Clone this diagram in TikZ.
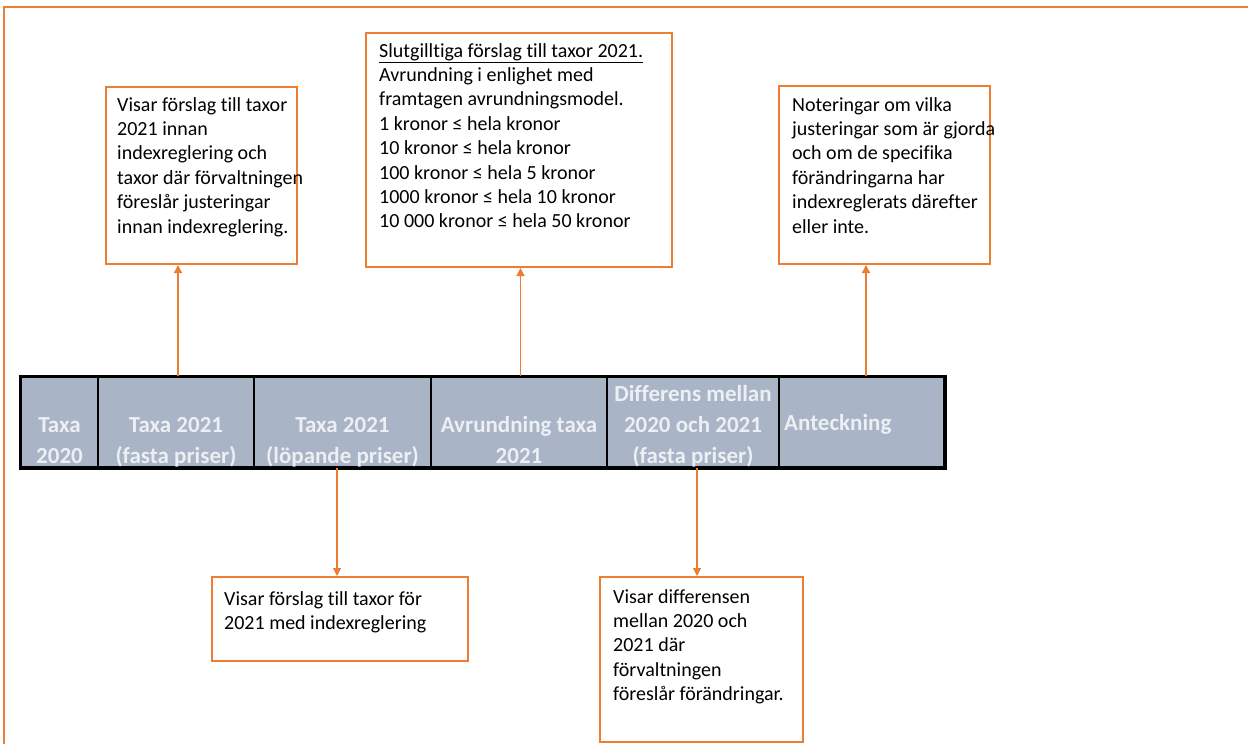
\documentclass[tikz,border=0pt]{standalone}
\usepackage{fontspec}
\usetikzlibrary{arrows.meta}
\newfontfamily\notefont[Ligatures={NoCommon,NoRequired,NoContextual}]{Carlito}
\definecolor{noteorange}{RGB}{237,125,49}
\definecolor{cellfill}{RGB}{169,181,198}
\definecolor{headtext}{RGB}{236,239,243}

\begin{document}
\begin{tikzpicture}
[x=1pt,y=-1pt,
 cellbox/.style={draw=black,line width=2pt,fill=cellfill,minimum height=90pt,inner sep=0pt},
 headtxt/.style={font=\notefont\bfseries\fontsize{23}{31}\selectfont,text=headtext,align=center,anchor=south,inner sep=0pt},
 notebox/.style={draw=noteorange,line width=2pt,fill=white,inner sep=0pt},
 notetxt/.style={font=\notefont\fontsize{20}{24.4}\selectfont,align=left,anchor=north west,inner sep=0pt},
 ar/.style={draw=noteorange,line width=1.2pt,-{Triangle[length=8pt,width=8pt]}}]
\useasboundingbox (0,0) rectangle (1251,744);
\draw [noteorange,line width=2.5pt] (4,744) -- (4,7);
\draw [noteorange,line width=2.5pt] (2.75,7) -- (1248,7);

% header row
\node [cellbox,minimum width=77pt] at (59.5,422) (c1) {};
\node [cellbox,minimum width=156pt] at (176,422) (c2) {};
\node [cellbox,minimum width=177pt] at (342.5,422) (c3) {};
\node [cellbox,minimum width=176pt] at (519,422) (c4) {};
\node [cellbox,minimum width=172pt] at (693,422) (c5) {};
\node [cellbox,minimum width=165pt] at (861.5,422) (c6) {};
\draw [line width=3pt] (c1.north west) rectangle (c6.south east);

\node [headtxt] at ([yshift=-4.6pt]c1.south) (t1) {Taxa\\2020\strut};
\node [headtxt] at ([yshift=-4.6pt]c2.south) (t2) {Taxa 2021\\(fasta priser)\strut};
\node [headtxt] at ([yshift=-4.6pt]c3.south) (t3) {Taxa 2021\\(löpande priser)\strut};
\node [headtxt] at ([yshift=-4.6pt]c4.south) (t4) {Avrundning taxa\\2021\strut};
\node [headtxt] at ([yshift=-4.6pt]c5.south) (t5) {Differens mellan\\2020 och 2021\\(fasta priser)\strut};
\node [headtxt,anchor=base west] at ([xshift=6pt,yshift=-8pt]c6.west) (t6) {Anteckning};

% explanation boxes
\node [notebox,minimum width=191pt,minimum height=177pt] at (201.5,175.5) (boxA) {};
\node [notetxt] at ([xshift=12pt,yshift=-11pt]boxA.north west) {Visar förslag till taxor\\2021 innan\\indexreglering och\\taxor där förvaltningen\\föreslår justeringar\\innan indexreglering.};

\node [notebox,minimum width=306pt,minimum height=234pt] at (519,150) (boxB) {};
\node [notetxt] at ([xshift=14pt,yshift=-11pt]boxB.north west) {\underline{Slutgilltiga förslag till taxor 2021.}\\Avrundning i enlighet med\\framtagen avrundningsmodel.\\1 kronor ≤ hela kronor\\10 kronor ≤ hela kronor\\100 kronor ≤ hela 5 kronor\\1000 kronor ≤ hela 10 kronor\\10 000 kronor ≤ hela 50 kronor};

\node [notebox,minimum width=211pt,minimum height=178pt] at (884.5,175) (boxC) {};
\node [notetxt] at ([xshift=14pt,yshift=-12pt]boxC.north west) {Noteringar om vilka\\justeringar som är gjorda\\och om de specifika\\förändringarna har\\indexreglerats därefter\\eller inte.};

\node [notebox,minimum width=256pt,minimum height=84pt] at (340,619) (boxD) {};
\node [notetxt] at ([xshift=13pt,yshift=-15pt]boxD.north west) {Visar förslag till taxor för\\2021 med indexreglering};

\node [notebox,minimum width=203pt,minimum height=165pt] at (701.5,659.5) (boxE) {};
\node [notetxt] at ([xshift=14pt,yshift=-13pt]boxE.north west) {Visar differensen\\mellan 2020 och\\2021 där\\förvaltningen\\föreslår förändringar.};

% arrows
\draw [ar] ([xshift=2pt]c2.north) -- ([xshift=2pt]c2.north |- boxA.south);
\draw [ar] ([xshift=1.5pt]c4.north) -- ([xshift=1.5pt]c4.north |- boxB.south);
\draw [ar] ([xshift=4.5pt]c6.north) -- ([xshift=4.5pt]c6.north |- boxC.south);
\draw [ar] ([xshift=-5.5pt]c3.south) -- ([xshift=-5.5pt]c3.south |- boxD.north);
\draw [ar] ([xshift=4pt]c5.south) -- ([xshift=4pt]c5.south |- boxE.north);
\end{tikzpicture}
\end{document}
